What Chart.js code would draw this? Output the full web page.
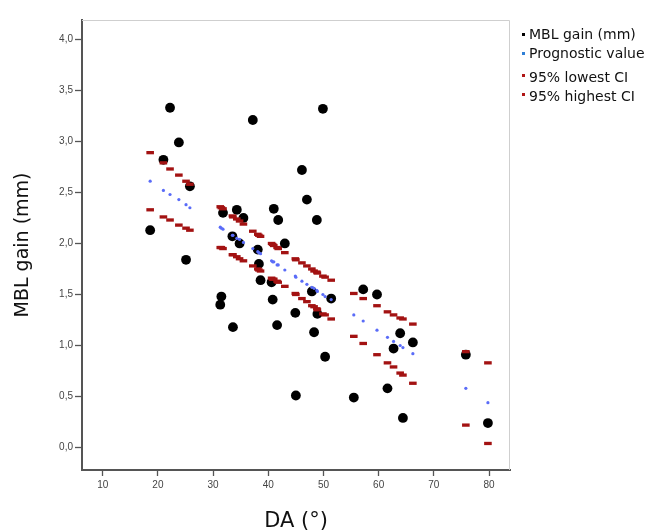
<!DOCTYPE html>
<html>
<head>
<meta charset="utf-8">
<script src="https://cdn.jsdelivr.net/npm/chart.js@4"></script>
<style>
  body { margin: 0; background: #fff; }
  #wrap { position: relative; width: 651px; height: 532px; }
  #legend { position: absolute; left: 520px; top: 26px; font-family: "DejaVu Sans", sans-serif; font-size: 14px; color: #111; }
  #legend div { position: absolute; white-space: nowrap; left: 9px; }
  #legend span { position: absolute; width: 3px; height: 3px; left: -7px; }
</style>
</head>
<body>
<div id="wrap">
  <canvas id="chart" width="651" height="532"></canvas>
  <div id="legend"></div>
</div>
<script>
// DA (degrees) of each patient
const daValues = [18.6, 21.0, 22.2, 23.8, 25.1, 25.8, 31.3, 31.5, 31.8, 33.5, 33.6, 34.3, 34.8, 35.5, 37.2,
  38.1, 38.3, 38.6, 40.6, 40.8, 41.0, 41.6, 41.8, 43.0, 44.9, 45.0, 46.1, 47.0, 47.9, 48.3,
  48.8, 48.9, 49.9, 50.3, 51.4, 55.5, 57.2, 59.7, 61.6, 62.7, 63.9, 64.4, 66.2, 75.8, 79.8];
const mblGain = [2.13, 2.82, 3.33, 2.99, 1.84, 2.56, 1.40, 1.48, 2.30, 2.07, 1.18, 2.33, 2.00, 2.25, 3.21,
  1.94, 1.80, 1.64, 1.62, 1.45, 2.34, 1.20, 2.23, 2.00, 1.32, 0.51, 2.72, 2.43, 1.53, 1.13,
  2.23, 1.31, 3.32, 0.89, 1.46, 0.49, 1.55, 1.50, 0.58, 0.97, 1.12, 0.29, 1.03, 0.91, 0.24];
const prognostic = [2.61, 2.52, 2.48, 2.43, 2.38, 2.35, 2.16, 2.15, 2.14, 2.08, 2.08, 2.05, 2.04, 2.01, 1.95,
  1.92, 1.91, 1.90, 1.83, 1.82, 1.82, 1.79, 1.79, 1.74, 1.68, 1.67, 1.63, 1.60, 1.57, 1.56,
  1.54, 1.53, 1.50, 1.48, 1.45, 1.30, 1.24, 1.15, 1.08, 1.04, 1.00, 0.98, 0.92, 0.58, 0.44];
const lowestCI = [2.33, 2.26, 2.23, 2.18, 2.15, 2.13, 1.96, 1.96, 1.95, 1.89, 1.89, 1.87, 1.85, 1.83, 1.78,
  1.75, 1.74, 1.73, 1.66, 1.65, 1.65, 1.63, 1.62, 1.58, 1.51, 1.50, 1.46, 1.43, 1.39, 1.38,
  1.36, 1.35, 1.31, 1.30, 1.26, 1.09, 1.02, 0.91, 0.83, 0.79, 0.73, 0.71, 0.63, 0.22, 0.04];
const highestCI = [2.89, 2.79, 2.73, 2.67, 2.61, 2.58, 2.36, 2.35, 2.34, 2.27, 2.26, 2.24, 2.22, 2.19, 2.12,
  2.09, 2.08, 2.07, 2.00, 1.99, 1.98, 1.96, 1.95, 1.91, 1.85, 1.84, 1.81, 1.78, 1.75, 1.73,
  1.72, 1.71, 1.68, 1.67, 1.64, 1.51, 1.46, 1.39, 1.33, 1.30, 1.27, 1.26, 1.21, 0.94, 0.83];

const xTicks = [10, 20, 30, 40, 50, 60, 70, 80];
const yTicks = [0, 0.5, 1, 1.5, 2, 2.5, 3, 3.5, 4];

const legendItems = [
  { label: 'MBL gain (mm)', color: '#000', top: 0 },
  { label: 'Prognostic value', color: '#2f7fd6', top: 19 },
  { label: '95% lowest CI', color: '#b01515', top: 43 },
  { label: '95% highest CI', color: '#b01515', top: 62 }
];

const redColor = '#a31212';
const pts = arr => daValues.map((x, i) => ({ x: x, y: arr[i] }));

// light frame around the plot area (top and right sides)
const frame = {
  id: 'frame',
  beforeDatasetsDraw(chart) {
    const a = chart.chartArea, ctx = chart.ctx;
    ctx.save();
    ctx.strokeStyle = '#cfcfcf';
    ctx.lineWidth = 1;
    ctx.beginPath();
    ctx.moveTo(a.left, a.top + 0.5);
    ctx.lineTo(a.right - 0.5, a.top + 0.5);
    ctx.lineTo(a.right - 0.5, a.bottom);
    ctx.stroke();
    ctx.restore();
  }
};

const tickFont = { family: '"Liberation Sans", Arial, sans-serif', size: 10 };

new Chart(document.getElementById('chart'), {
  type: 'scatter',
  data: {
    datasets: [
      { label: 'MBL gain (mm)', data: pts(mblGain), order: 4,
        backgroundColor: '#000', borderWidth: 0, pointRadius: 4.9 },
      { label: 'Prognostic value', data: pts(prognostic), order: 3,
        backgroundColor: '#5a6cf8', borderWidth: 0, pointRadius: 1.6 },
      { label: '95% lowest CI', data: pts(lowestCI), order: 2,
        pointStyle: 'line', borderColor: redColor, pointBorderWidth: 3.3, pointRadius: 3.8 },
      { label: '95% highest CI', data: pts(highestCI), order: 1,
        pointStyle: 'line', borderColor: redColor, pointBorderWidth: 3.3, pointRadius: 3.8 }
    ]
  },
  options: {
    responsive: false,
    animation: false,
    layout: { padding: { top: 20, right: 141, left: 0, bottom: 0 } },
    plugins: { legend: { display: false }, tooltip: { enabled: false } },
    scales: {
      x: {
        min: 6.25, max: 83.8,
        afterBuildTicks: s => { s.ticks = xTicks.map(v => ({ value: v })); },
        afterFit: s => { s.height = 62; },
        grid: { drawOnChartArea: false, tickLength: 6, color: '#555', tickWidth: 1.3 },
        border: { color: '#555', width: 2 },
        ticks: { font: tickFont, color: '#444', padding: 3 },
        title: { display: true, text: 'DA (°)', color: '#111',
          font: { family: '"DejaVu Sans", sans-serif', size: 21, lineHeight: 1.0 }, padding: 0 }
      },
      y: {
        min: -0.22, max: 4.19,
        afterBuildTicks: s => { s.ticks = yTicks.map(v => ({ value: v })); },
        afterFit: s => { s.width = 82; },
        grid: { drawOnChartArea: false, tickLength: 7, color: '#555', tickWidth: 1.3 },
        border: { color: '#555', width: 2 },
        ticks: { font: tickFont, color: '#444', padding: 2,
          callback: v => v.toFixed(1).replace('.', ',') },
        title: { display: true, text: 'MBL gain (mm)', color: '#111',
          font: { family: '"DejaVu Sans", sans-serif', size: 19 }, padding: { top: 12 } }
      }
    }
  },
  plugins: [frame]
});

const legend = document.getElementById('legend');
legendItems.forEach(item => {
  const row = document.createElement('div');
  row.style.top = item.top + 'px';
  row.textContent = item.label;
  const dot = document.createElement('span');
  dot.style.background = item.color;
  dot.style.top = (item.top > 30 ? 5 : 7) + 'px';
  row.appendChild(dot);
  legend.appendChild(row);
});
</script>
</body>
</html>
